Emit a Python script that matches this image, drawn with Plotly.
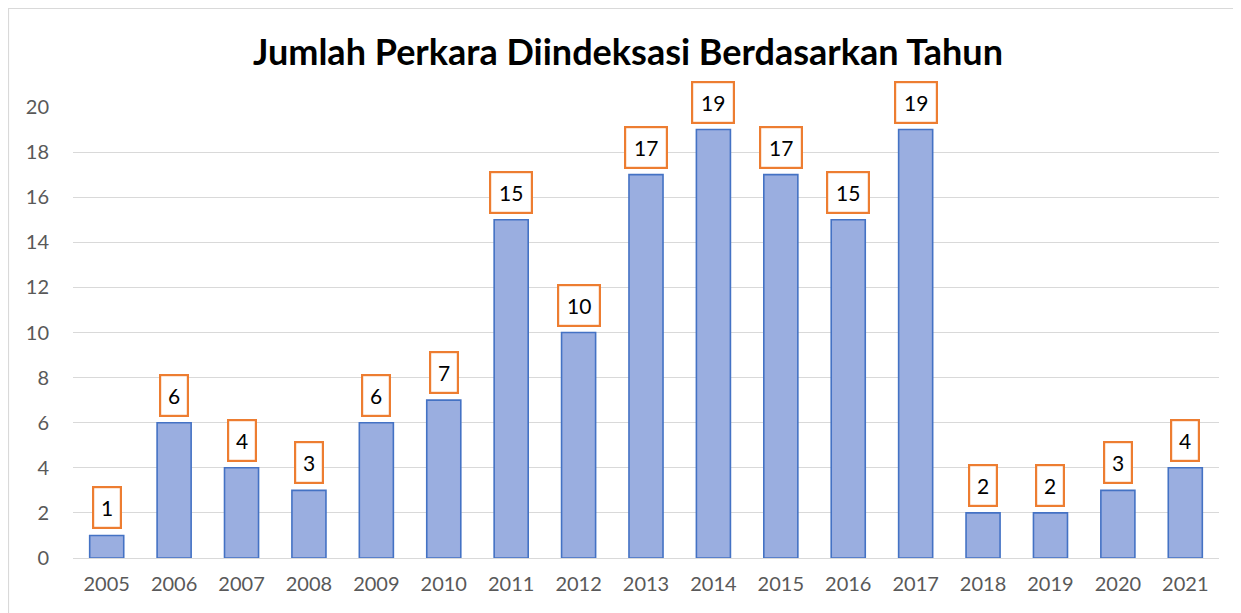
import plotly.graph_objects as go

years = ["2005", "2006", "2007", "2008", "2009", "2010", "2011", "2012", "2013",
         "2014", "2015", "2016", "2017", "2018", "2019", "2020", "2021"]
counts = [1, 6, 4, 3, 6, 7, 15, 10, 17, 19, 17, 15, 19, 2, 2, 3, 4]
y_ticks = [0, 2, 4, 6, 8, 10, 12, 14, 16, 18, 20]
title_text = "Jumlah Perkara Diindeksasi Berdasarkan Tahun"

FONT = "Lato"
W, H = 1233, 605
L, R, T, B = 65, 22, 99, 55
PW, PH = W - L - R, H - T - B

fig = go.Figure(go.Bar(
    x=years, y=counts,
    marker=dict(color="#9aaee0", line=dict(color="#4472c4", width=1.6)),
    hoverinfo="x+y",
))

for i, (yr, v) in enumerate(zip(years, counts)):
    txt = str(v)
    fig.add_annotation(
        x=i, y=v, xref="x", yref="y", text=txt, showarrow=False,
        yanchor="bottom", yshift=6,
        font=dict(family=FONT, size=21, color="#000000"),
        bgcolor="#ffffff", bordercolor="#ed7d31", borderwidth=2.2, borderpad=5,
        width=16 if len(txt) == 1 else 30, height=29,
    )

# outer chart border
fig.add_shape(type="rect", xref="paper", yref="paper",
              x0=(-L + 0.5) / PW, x1=(W - L + 10) / PW,
              y0=-(B + 10) / PH, y1=(PH + T - 0.5) / PH,
              line=dict(color="#d9d9d9", width=1.2), fillcolor="rgba(0,0,0,0)",
              layer="below")

fig.update_layout(
    width=W, height=H,
    margin=dict(l=L, r=R, t=T, b=B),
    paper_bgcolor="#ffffff", plot_bgcolor="#ffffff",
    bargap=0.495,
    showlegend=False,
    title=dict(text="<b>" + title_text + "</b>", x=620 / W, xanchor="center",
               y=1 - 44 / H, yanchor="middle", xref="container", yref="container",
               font=dict(family=FONT, size=36, color="#000000")),
    xaxis=dict(type="category", range=[-0.5, len(years) - 0.5], showgrid=False,
               showline=False, ticks="",
               tickfont=dict(family=FONT, size=20, color="#595959"),
               ticklabelstandoff=12),
    yaxis=dict(range=[0, 20], tickvals=y_ticks, showgrid=True, gridcolor="#d9d9d9",
               gridwidth=1.3, zeroline=True, zerolinecolor="#d9d9d9", zerolinewidth=1.3,
               showline=False, ticks="",
               tickfont=dict(family=FONT, size=20, color="#595959"),
               ticklabelstandoff=23),
)

fig.write_html("out.html")
